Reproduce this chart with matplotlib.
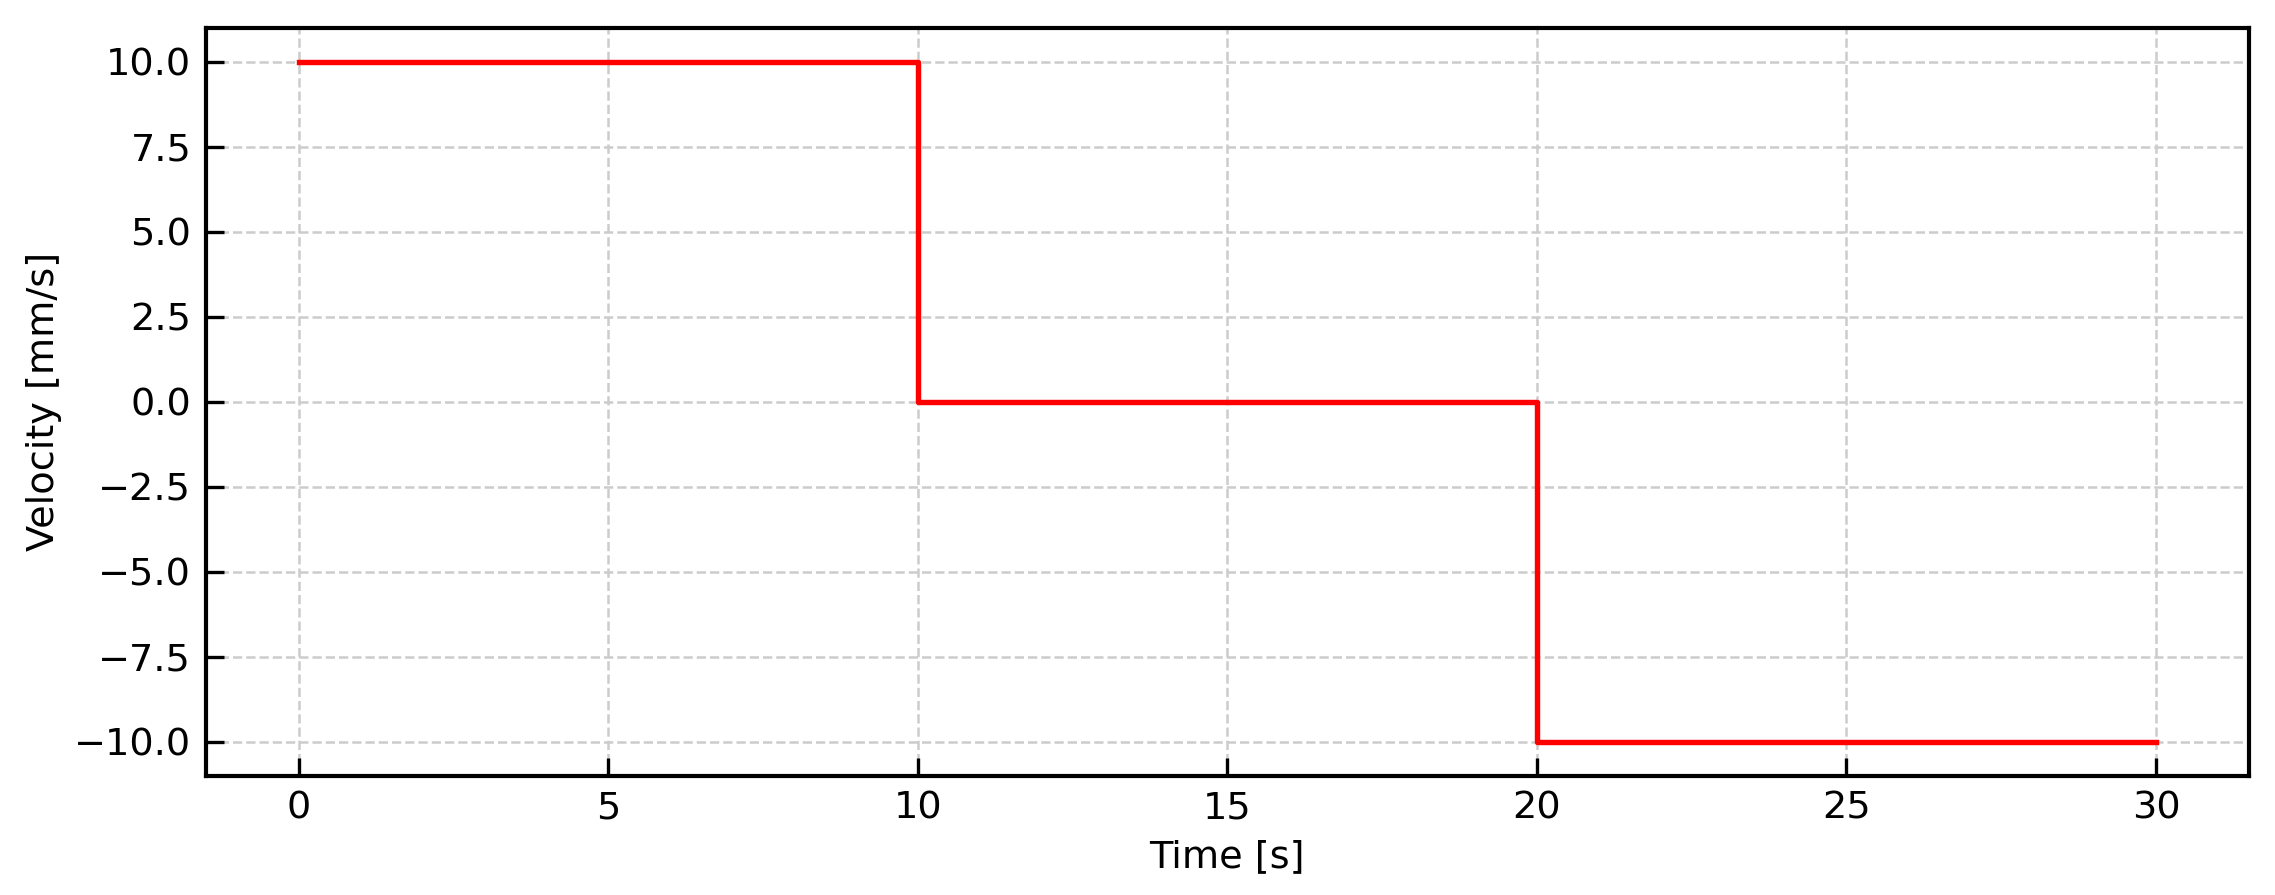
import matplotlib
matplotlib.use("Agg")
import matplotlib.pyplot as plt

plt.rcParams['font.family'] = ['DejaVu Sans']
plt.rcParams['font.size'] = 9.2

# step velocity profile
time_s = [0, 10, 20, 30]
velocity_mm_s = [10, 0, -10, -10]

fig = plt.figure(figsize=(2275 / 300, 895 / 300), dpi=300)
ax = fig.add_axes([0.0905, 0.133, 0.898, 0.836])

ax.step(time_s, velocity_mm_s, where='post', color='red', linewidth=1.3)

ax.set_xlabel('Time [s]', labelpad=3)
ax.set_ylabel('Velocity [mm/s]', labelpad=3)
ax.set_yticks([-10, -7.5, -5, -2.5, 0, 2.5, 5, 7.5, 10])

ax.tick_params(direction='in', length=4.3, width=0.8, colors='black')
for sp in ax.spines.values():
    sp.set_linewidth(1.0)
ax.grid(True, linestyle='--', color='#cccccc', linewidth=0.6)
ax.set_axisbelow(True)

fig.savefig('out.png', dpi=300)
